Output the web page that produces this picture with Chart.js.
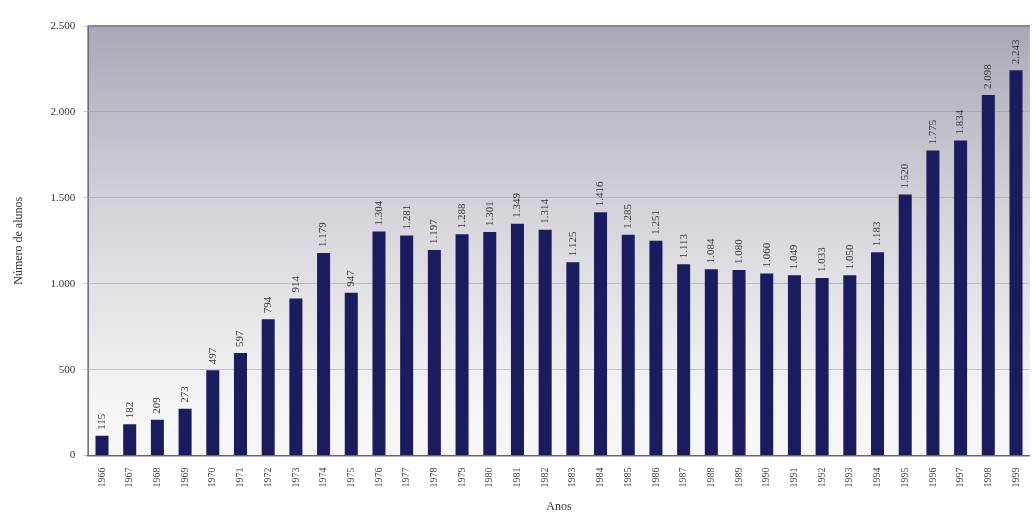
<!DOCTYPE html>
<html>
<head>
<meta charset="utf-8">
<script src="https://cdn.jsdelivr.net/npm/chart.js@4"></script>
<style>
  body { margin: 0; background: #fff; }
  #wrap { width: 1032px; height: 520px; }
</style>
</head>
<body>
<div id="wrap"><canvas id="myChart"></canvas></div>
<script>

const years = ["1966","1967","1968","1969","1970","1971","1972","1973","1974","1975",
  "1976","1977","1978","1979","1980","1981","1982","1983","1984","1985",
  "1986","1987","1988","1989","1990","1991","1992","1993","1994","1995",
  "1996","1997","1998","1999"];

const alunos = [115, 182, 209, 273, 497, 597, 794, 914, 1179, 947,
  1304, 1281, 1197, 1288, 1301, 1349, 1314, 1125, 1416, 1285,
  1251, 1113, 1084, 1080, 1060, 1049, 1033, 1050, 1183, 1520,
  1775, 1834, 2098, 2243];

const yTicks = [0, 500, 1000, 1500, 2000, 2500];

function fmt(n) {
  return n.toString().replace(/\B(?=(\d{3})+(?!\d))/g, ".");
}

// gray gradient behind the bars
const plotBg = {
  id: 'plotBg',
  beforeDraw(chart) {
    const { ctx, chartArea } = chart;
    const g = ctx.createLinearGradient(0, chartArea.top, 0, chartArea.bottom);
    g.addColorStop(0, '#a9a8b6');
    g.addColorStop(0.45, '#d6d5dc');
    g.addColorStop(0.85, '#f3f3f5');
    g.addColorStop(1, '#f7f7f8');
    ctx.save();
    ctx.fillStyle = g;
    ctx.fillRect(chartArea.left, chartArea.top, chartArea.right - chartArea.left, chartArea.bottom - chartArea.top);
    ctx.strokeStyle = '#666';
    ctx.lineWidth = 1.5;
    ctx.beginPath();
    ctx.moveTo(chartArea.left, chartArea.bottom);
    ctx.lineTo(chartArea.left, chartArea.top);
    ctx.lineTo(chartArea.right, chartArea.top);
    ctx.stroke();
    ctx.restore();
  }
};

// values written sideways above each bar
const barLabels = {
  id: 'barLabels',
  afterDatasetsDraw(chart) {
    const { ctx } = chart;
    const meta = chart.getDatasetMeta(0);
    ctx.save();
    ctx.font = '11px "Liberation Serif", "DejaVu Serif", serif';
    ctx.fillStyle = '#333';
    ctx.textAlign = 'left';
    ctx.textBaseline = 'middle';
    meta.data.forEach((bar, i) => {
      ctx.save();
      ctx.translate(bar.x, bar.y - 6);
      ctx.rotate(-Math.PI / 2);
      ctx.fillText(fmt(alunos[i]), 0, 0);
      ctx.restore();
    });
    ctx.restore();
  }
};

const ctx = document.getElementById('myChart').getContext('2d');

const myChart = new Chart(ctx, {
  type: 'bar',
  data: {
    labels: years,
    datasets: [{
      data: alunos,
      backgroundColor: '#1b1b5e',
      barPercentage: 0.47,
      categoryPercentage: 1
    }]
  },
  options: {
    responsive: true,
    maintainAspectRatio: false,
    animation: false,
    layout: { padding: { top: 26, right: 0, left: 8, bottom: 2 } },
    plugins: {
      legend: { display: false },
      tooltip: { enabled: false }
    },
    scales: {
      x: {
        grid: { display: false },
        border: { color: '#666', width: 1.5 },
        ticks: {
          minRotation: 90, maxRotation: 90,
          color: '#444',
          padding: 4,
          font: { family: '"Liberation Serif", serif', size: 10 }
        },
        title: {
          display: true,
          text: 'Anos',
          color: '#333',
          font: { family: '"Liberation Serif", serif', size: 12 },
          padding: { top: 8 }
        }
      },
      y: {
        min: 0,
        max: 2500,
        afterBuildTicks(axis) {
          axis.ticks = yTicks.map(v => ({ value: v }));
        },
        grid: { color: 'rgba(150,150,160,0.5)', drawTicks: true, tickLength: 5 },
        border: { display: false },
        ticks: {
          color: '#333',
          padding: 8,
          font: { family: '"Liberation Serif", serif', size: 11 },
          callback: v => fmt(v)
        },
        title: {
          display: true,
          text: 'Número de alunos',
          color: '#333',
          font: { family: '"Liberation Serif", serif', size: 12 },
          padding: { bottom: 16 }
        }
      }
    }
  },
  plugins: [plotBg, barLabels]
});

</script>
</body>
</html>
